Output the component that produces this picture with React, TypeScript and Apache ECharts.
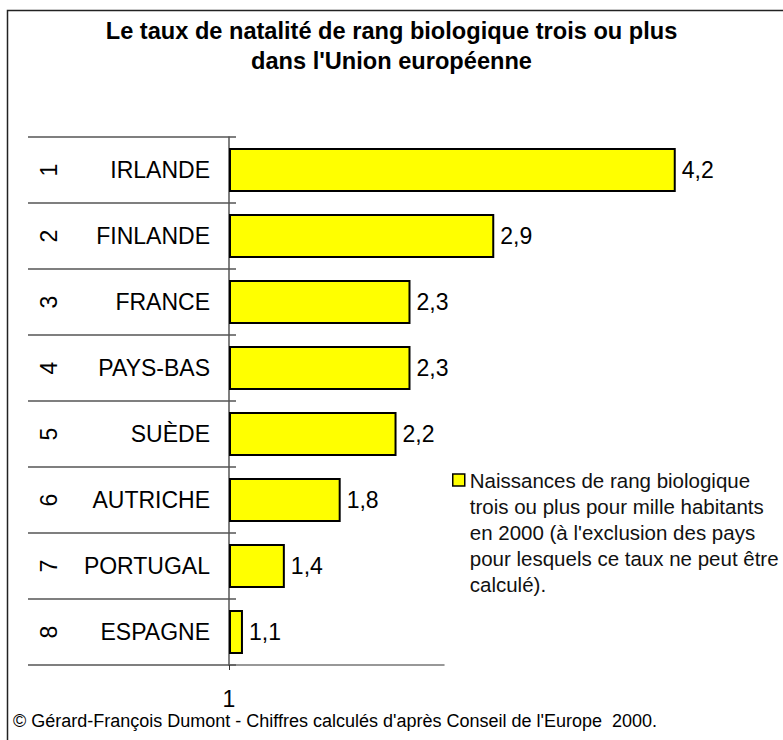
import React, { useEffect, useRef } from "react";
import * as echarts from "echarts";

const countries = ["IRLANDE", "FINLANDE", "FRANCE", "PAYS-BAS", "SUÈDE", "AUTRICHE", "PORTUGAL", "ESPAGNE"];
const ranks = ["1", "2", "3", "4", "5", "6", "7", "8"];
const rates = [4.2, 2.9, 2.3, 2.3, 2.2, 1.8, 1.4, 1.1];
const xTickValues = [1];
const titleLines = ["Le taux de natalité de rang biologique trois ou plus", "dans l'Union européenne"];
const legendLines = [
  "Naissances de rang biologique",
  "trois ou plus pour mille habitants",
  "en 2000 (à l'exclusion des pays",
  "pour lesquels ce taux ne peut être",
  "calculé).",
];
const footer = "© Gérard-François Dumont - Chiffres calculés d'après Conseil de l'Europe  2000.";

const FONT = "'Liberation Sans', Arial, sans-serif";
const seriesName = legendLines.join(" ");

export default function App() {
  const ref = useRef<HTMLDivElement>(null);
  useEffect(() => {
    if (!ref.current) return;
    const chart = echarts.init(ref.current, null, { renderer: "svg" });
    chart.setOption({
      animation: false,
      backgroundColor: "#ffffff",
      textStyle: { fontFamily: FONT },
      title: [
        {
          text: titleLines.join("\n"),
          left: "center",
          top: 16,
          padding: 0,
          textStyle: { fontFamily: FONT, fontSize: 23.6, fontWeight: "bold", color: "#000", lineHeight: 30 },
        },
        {
          text: footer,
          left: 13,
          top: 711,
          padding: 0,
          textStyle: { fontFamily: FONT, fontSize: 18, fontWeight: "normal", color: "#000", lineHeight: 20 },
        },
      ],
      legend: {
        show: true,
        left: 452,
        top: 363,
        padding: 0,
        itemWidth: 12,
        itemHeight: 12,
        icon: "rect",
        itemStyle: { color: "#FFFF00", borderColor: "#000", borderWidth: 1.5 },
        formatter: () => "\n\n\n\n" + legendLines.join("\n"),
        textStyle: { fontFamily: FONT, fontSize: 20.5, color: "#111", lineHeight: 26 },
        data: [seriesName],
      },
      graphic: [
        {
          type: "rect",
          shape: { x: 7.5, y: 10.5, width: 1000, height: 1000 },
          style: { fill: "none", stroke: "#222", lineWidth: 1.5 },
          silent: true,
          z: 0,
        },
      ],
      grid: { left: 229, top: 137, width: 215, height: 528, containLabel: false },
      xAxis: {
        type: "value",
        min: 1,
        max: 2.54,
        startValue: 1,
        axisLine: { show: true, lineStyle: { color: "#777", width: 1.5 } },
        axisTick: { show: true, length: 5, customValues: xTickValues, lineStyle: { color: "#333" } },
        axisLabel: {
          show: true,
          customValues: xTickValues,
          margin: 22,
          fontFamily: FONT,
          fontSize: 23,
          color: "#000",
          formatter: (v: number) => String(v).replace(".", ","),
        },
        splitLine: { show: false },
      },
      yAxis: [
        {
          type: "category",
          data: countries,
          inverse: true,
          position: "left",
          axisLine: { show: true, lineStyle: { color: "#555", width: 1.5 } },
          axisTick: { show: true, length: 201, alignWithLabel: false, lineStyle: { color: "#555", width: 1.5 } },
          axisLabel: { margin: 19, fontFamily: FONT, fontSize: 23, color: "#000" },
          splitLine: { show: false },
        },
        {
          type: "category",
          data: ranks,
          inverse: true,
          position: "left",
          offset: 0,
          axisLine: { show: false },
          axisTick: { show: true, inside: true, length: 7, alignWithLabel: false, lineStyle: { color: "#555", width: 1.5 } },
          axisLabel: { rotate: 90, margin: 169, fontFamily: FONT, fontSize: 23, color: "#000" },
          splitLine: { show: false },
        },
      ],
      series: [
        {
          name: seriesName,
          type: "bar",
          yAxisIndex: 0,
          data: rates,
          barWidth: 44,
          clip: false,
          itemStyle: { color: "#FFFF00", borderColor: "#000", borderWidth: 2 },
          label: {
            show: true,
            position: "right",
            distance: 6,
            fontFamily: FONT,
            fontSize: 23,
            color: "#000",
            formatter: (p: any) => String(p.value).replace(".", ","),
          },
        },
      ],
    });
    return () => chart.dispose();
  }, []);
  return <div ref={ref} style={{ position: "fixed", left: 0, top: 0, width: 783, height: 740 }} />;
}
